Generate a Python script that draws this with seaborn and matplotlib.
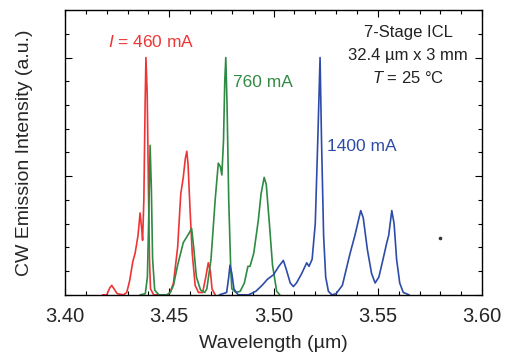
import pandas as pd
import seaborn as sns
import matplotlib.pyplot as plt
from matplotlib.ticker import MultipleLocator, FormatStrFormatter

# Spectra: wavelength (um) and intensity (a.u.)
red_wl = [3.418, 3.420, 3.4215, 3.4224, 3.4235, 3.425, 3.428, 3.4296, 3.431, 3.4325, 3.4336, 3.435, 3.436,
          3.4368, 3.4372, 3.4378, 3.4384, 3.4388, 3.4394, 3.440, 3.4405, 3.441, 3.4425, 3.449, 3.4504, 3.452,
          3.454, 3.4555, 3.4567, 3.4577, 3.4584, 3.459, 3.460, 3.461, 3.4624, 3.464, 3.466, 3.4675, 3.4687,
          3.4697, 3.4705, 3.472]
red_int = [0, 0, 0.06, 0.08, 0.05, 0.01, 0, 0.02, 0.12, 0.28, 0.35, 0.50, 0.69,
           0.55, 0.46, 0.8, 1.6, 2.0, 1.7, 0.9, 0.3, 0.05, 0, 0, 0.02, 0.1,
           0.4, 0.85, 0.99, 1.15, 1.21, 1.1, 0.7, 0.35, 0.08, 0.02, 0.02, 0.15, 0.27,
           0.2, 0.05, 0]

green_wl = [3.436, 3.4385, 3.4395, 3.4402, 3.4408, 3.4414, 3.442, 3.443, 3.445, 3.449, 3.4505, 3.452, 3.454,
            3.4567, 3.4595, 3.4607, 3.4617, 3.463, 3.465, 3.467, 3.468, 3.470, 3.472, 3.4735, 3.4745, 3.4752,
            3.476, 3.4766, 3.4771, 3.4777, 3.4785, 3.4795, 3.480, 3.482, 3.484, 3.486, 3.4877, 3.4887, 3.4905,
            3.4927, 3.494, 3.4955, 3.4965, 3.498, 3.4995, 3.5015, 3.503]
green_int = [0, 0.01, 0.15, 0.7, 1.26, 0.9, 0.3, 0.04, 0, 0, 0.02, 0.08, 0.25,
             0.44, 0.52, 0.56, 0.4, 0.15, 0.04, 0.02, 0.05, 0.3, 0.8, 1.11, 1.08, 1.01,
             1.3, 1.8, 2.0, 1.6, 0.8, 0.2, 0.05, 0.02, 0.03, 0.1, 0.24, 0.24, 0.35,
             0.63, 0.85, 0.99, 0.93, 0.6, 0.25, 0.03, 0]

blue_wl = [3.474, 3.4775, 3.4785, 3.4791, 3.480, 3.481, 3.483, 3.488, 3.4915, 3.4945, 3.497, 3.500, 3.5025,
           3.5047, 3.506, 3.508, 3.5095, 3.511, 3.5135, 3.5159, 3.517, 3.5185, 3.520, 3.5212, 3.5223, 3.523,
           3.524, 3.525, 3.5263, 3.528, 3.530, 3.533, 3.5367, 3.539, 3.5418, 3.543, 3.545, 3.547, 3.5487,
           3.5505, 3.5525, 3.5543, 3.5552, 3.5567, 3.5578, 3.559, 3.5605, 3.5622, 3.565]
blue_int = [0, 0.02, 0.15, 0.25, 0.18, 0.05, 0, 0, 0.03, 0.08, 0.13, 0.17, 0.24,
            0.29, 0.22, 0.1, 0.07, 0.1, 0.18, 0.27, 0.24, 0.3, 0.6, 1.3, 2.0, 1.3,
            0.5, 0.15, 0.03, 0, 0.01, 0.08, 0.35, 0.5, 0.71, 0.65, 0.38, 0.18, 0.1,
            0.15, 0.3, 0.44, 0.5, 0.71, 0.6, 0.3, 0.1, 0.02, 0]

currents = ['460 mA', '760 mA', '1400 mA']
palette = {'460 mA': '#ee3535', '760 mA': '#2f8a43', '1400 mA': '#2d4ca8'}

# stray dot in the original figure
dot_wl = [3.5799]
dot_int = [0.48]

df = pd.concat([
    pd.DataFrame({'wl': red_wl, 'intensity': red_int, 'current': currents[0]}),
    pd.DataFrame({'wl': green_wl, 'intensity': green_int, 'current': currents[1]}),
    pd.DataFrame({'wl': blue_wl, 'intensity': blue_int, 'current': currents[2]}),
])

sns.set_style('ticks')
plt.rcParams['font.family'] = ['Liberation Sans', 'DejaVu Sans']
plt.rcParams['mathtext.fontset'] = 'custom'
plt.rcParams['mathtext.it'] = 'Liberation Sans:italic'

fig = plt.figure(figsize=(5.08, 3.6), dpi=100)
ax = fig.add_axes([0.128, 0.181, 0.821, 0.791])

sns.lineplot(data=df, x='wl', y='intensity', hue='current', palette=palette, sort=False,
             estimator=None, legend=False, linewidth=1.2, ax=ax)
ax.plot(dot_wl, dot_int, 'o', color='#333333', markersize=1.6)

ax.set_xlim(3.40, 3.60)
ax.set_ylim(0, 2.4)
ax.xaxis.set_major_locator(MultipleLocator(0.05))
ax.xaxis.set_minor_locator(MultipleLocator(0.01))
ax.xaxis.set_major_formatter(FormatStrFormatter('%.2f'))
ax.yaxis.set_major_locator(MultipleLocator(1))
ax.yaxis.set_minor_locator(MultipleLocator(0.2))
ax.set_yticklabels([])
ax.tick_params(which='both', direction='in', top=True, right=True, color='black')
ax.tick_params(which='major', length=5, width=0.8, labelsize=14.5, pad=9)
ax.tick_params(which='minor', length=3, width=0.8)
for s in ax.spines.values():
    s.set_color('black')
    s.set_linewidth(1.0)

ax.set_xlabel('Wavelength (\u00b5m)', fontsize=14, labelpad=6)
ax.set_ylabel('CW Emission Intensity (a.u.)', fontsize=14, labelpad=14)

ax.text(3.4205, 2.13, r'$I$ = 460 mA', color=palette['460 mA'], fontsize=12.5, va='center')
ax.text(3.4805, 1.79, '760 mA', color=palette['760 mA'], fontsize=12.5, va='center')
ax.text(3.5255, 1.25, '1400 mA', color=palette['1400 mA'], fontsize=12.5, va='center')
ax.text(3.5645, 2.21, '7-Stage ICL', fontsize=12, ha='center', va='center', color='#222222')
ax.text(3.5645, 2.02, '32.4 \u00b5m x 3 mm', fontsize=12, ha='center', va='center', color='#222222')
ax.text(3.5645, 1.83, '$T$ = 25 \u00b0C', fontsize=12, ha='center', va='center', color='#222222')

fig.savefig('out.png', dpi=100)
